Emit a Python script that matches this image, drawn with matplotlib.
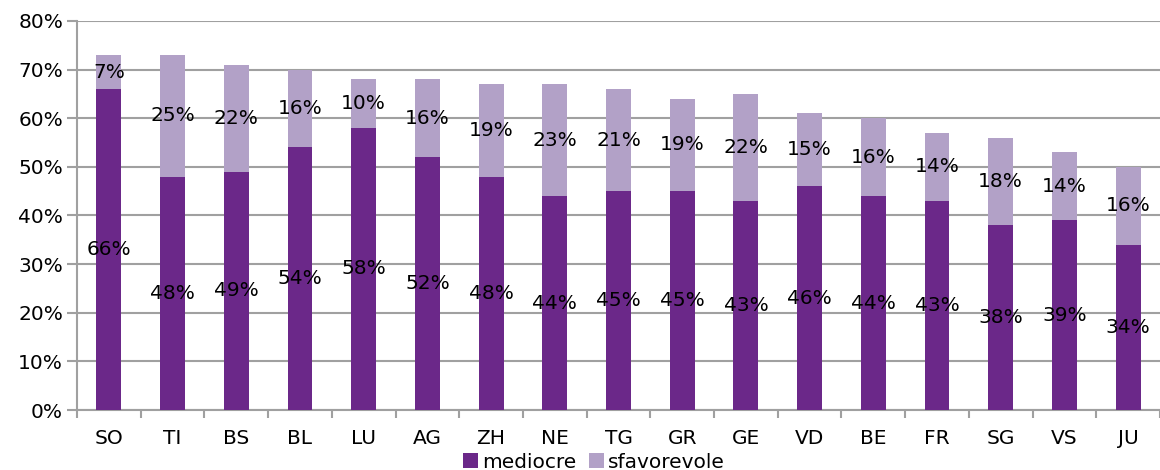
import matplotlib.pyplot as plt
import numpy as np

# Cantoni e quote di valutazioni mediocre / sfavorevole (%)
cantoni = ['SO', 'TI', 'BS', 'BL', 'LU', 'AG', 'ZH', 'NE', 'TG',
           'GR', 'GE', 'VD', 'BE', 'FR', 'SG', 'VS', 'JU']
mediocre = [66, 48, 49, 54, 58, 52, 48, 44, 45, 45, 43, 46, 44, 43, 38, 39, 34]
sfavorevole = [7, 25, 22, 16, 10, 16, 19, 23, 21, 19, 22, 15, 16, 14, 18, 14, 16]

col_dark = '#6B2889'
col_light = '#B2A1C7'
grid_col = '#A0A0A0'
fs = 14.5

fig = plt.figure(figsize=(11.6, 4.7), dpi=100)
ax = fig.add_axes([77/1160, 60/470, 1083/1160, 389/470])

x = np.arange(len(cantoni))
med = np.array(mediocre)
sfa = np.array(sfavorevole)
w = 0.39
ax.bar(x, med, w, color=col_dark, label='mediocre', zorder=3)
ax.bar(x, sfa, w, bottom=med, color=col_light, label='sfavorevole', zorder=3)

for i in x:
    ax.text(i, med[i] / 2, f'{med[i]}%', ha='center', va='center',
            fontsize=fs, zorder=4)
    ax.text(i, med[i] + sfa[i] / 2, f'{sfa[i]}%', ha='center', va='center',
            fontsize=fs, zorder=4)

ax.set_xlim(-0.5, len(cantoni) - 0.5)
ax.set_ylim(0, 80)
ax.set_yticks(np.arange(0, 81, 10))
ax.set_yticklabels([f'{v}%' for v in range(0, 81, 10)], fontsize=fs)
ax.set_xticks(x)
ax.set_xticklabels(cantoni, fontsize=fs)
ax.set_xticks(np.arange(-0.5, len(cantoni), 1), minor=True)
ax.tick_params(axis='x', which='major', length=0, pad=14)
ax.tick_params(axis='x', which='minor', length=6, color=grid_col, width=1.5)
ax.tick_params(axis='y', length=7, color=grid_col, width=1.5, pad=3)

ax.yaxis.grid(True, color=grid_col, linewidth=1.5, zorder=0)
ax.set_axisbelow(True)
for s in ['top', 'right']:
    ax.spines[s].set_visible(False)
for s in ['left', 'bottom']:
    ax.spines[s].set_color(grid_col)
    ax.spines[s].set_linewidth(1.5)

fig.legend(loc='center', bbox_to_anchor=(594/1160, 1 - 462/470), ncol=2,
           frameon=False, fontsize=fs, handlelength=0.75, handleheight=0.75,
           handletextpad=0.2, columnspacing=0.6, borderpad=0)

fig.savefig('out.png', dpi=100)
